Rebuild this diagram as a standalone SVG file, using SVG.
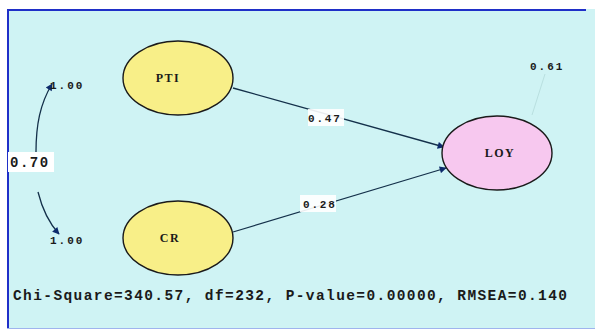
<svg xmlns="http://www.w3.org/2000/svg" width="595" height="331" viewBox="0 0 595 331">
  <style>
    .lbl { font-family: "Liberation Mono", "Courier New", monospace; font-weight: bold; fill: #1a1a1a; }
    .name { font-family: "Liberation Serif", "Times New Roman", serif; font-weight: bold; fill: #1a1a1a; font-size: 12px; letter-spacing: 1.5px; }
    .node ellipse { stroke: #1a1a1a; stroke-width: 1.4; }
    .path { fill: none; stroke: #14304a; stroke-width: 1.3; }
  </style>
  <defs>
    <marker id="arr" viewBox="0 0 10 10" refX="9" refY="5" markerWidth="9" markerHeight="7" orient="auto" markerUnits="userSpaceOnUse">
      <path d="M0,0 L10,5 L0,10 z" fill="#0d2a6b"/>
    </marker>
  </defs>

  <!-- background panel -->
  <rect x="0" y="0" width="595" height="331" fill="#ffffff"/>
  <rect x="7" y="9" width="588" height="320" fill="#cff3f4"/>
  <line x1="7" y1="10" x2="586" y2="10" stroke="#1f2fc8" stroke-width="2"/>
  <line x1="8" y1="9" x2="8" y2="329" stroke="#1f2fc8" stroke-width="2"/>
  <line x1="7" y1="328.5" x2="595" y2="328.5" stroke="#9fb4ee" stroke-width="1.2"/>

  <!-- connectors -->
  <g id="connectors">
    <line class="path" x1="233" y1="88" x2="444" y2="147" marker-end="url(#arr)"/>
    <line class="path" x1="233" y1="232" x2="446" y2="168" marker-end="url(#arr)"/>
    <path class="path" d="M36,152 C36,125 40,104 52,84" marker-end="url(#arr)"/>
    <path class="path" d="M38,192 C42,208 48,222 59,234" marker-end="url(#arr)"/>
    <line x1="545" y1="74" x2="532" y2="115" stroke="#b9e0e0" stroke-width="1"/>
    <!-- label backgrounds -->
    <rect x="8" y="152" width="46" height="20" fill="#ffffff"/>
    <rect x="308" y="109" width="36" height="17" fill="#ffffff" opacity="0.9"/>
    <rect x="300" y="195" width="36" height="17" fill="#ffffff" opacity="0.9"/>
    <text class="lbl" x="10" y="167" font-size="14" letter-spacing="1.5">0.70</text>
    <text class="lbl" x="308" y="122" font-size="11" letter-spacing="1.8">0.47</text>
    <text class="lbl" x="303" y="208" font-size="11" letter-spacing="1.8">0.28</text>
    <text class="lbl" x="50" y="89" font-size="11" letter-spacing="2">1.00</text>
    <text class="lbl" x="50" y="244" font-size="11" letter-spacing="2">1.00</text>
    <text class="lbl" x="530" y="70" font-size="11" letter-spacing="2">0.61</text>
  </g>

  <g id="PTI" class="node">
    <ellipse cx="178" cy="78" rx="55" ry="37" fill="#f8ef88"/>
    <text class="name" x="168" y="82" text-anchor="middle">PTI</text>
  </g>
  <g id="CR" class="node">
    <ellipse cx="178" cy="238" rx="55" ry="37" fill="#f8ef88"/>
    <text class="name" x="170" y="242" text-anchor="middle">CR</text>
  </g>
  <g id="LOY" class="node">
    <ellipse cx="497" cy="153" rx="55" ry="37" fill="#f7c8ef"/>
    <text class="name" x="500" y="157" text-anchor="middle">LOY</text>
  </g>

  <text class="lbl" x="13" y="300" font-size="14.5" textLength="554" lengthAdjust="spacing">Chi-Square=340.57, df=232, P-value=0.00000, RMSEA=0.140</text>
</svg>
